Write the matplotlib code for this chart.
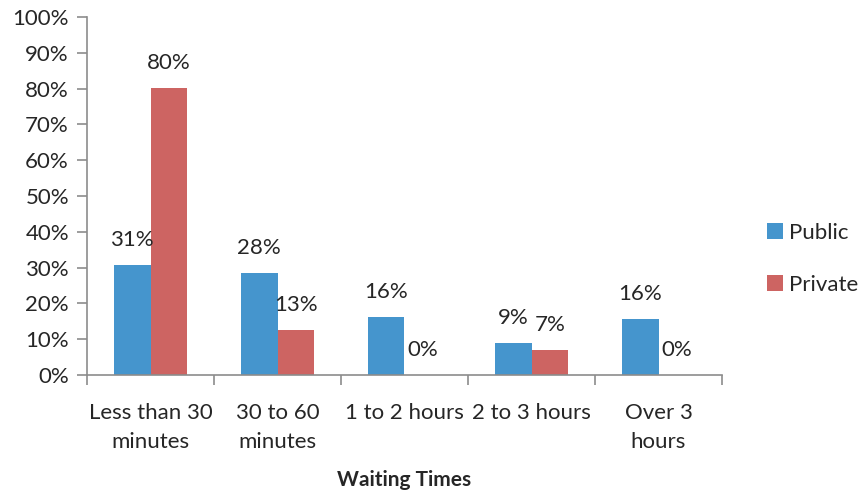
import numpy as np
import matplotlib.pyplot as plt

# Chart data
categories = ['Less than 30\nminutes', '30 to 60\nminutes', '1 to 2 hours', '2 to 3 hours', 'Over 3\nhours']
public = [30.8, 28.4, 16.1, 8.9, 15.6]
private = [80.2, 12.6, 0.0, 7.1, 0.0]
public_labels = ['31%', '28%', '16%', '9%', '16%']
private_labels = ['80%', '13%', '0%', '7%', '0%']
yticks = list(range(0, 101, 10))

plt.rcParams['font.family'] = ['Lato', 'DejaVu Sans']
text_color = '#262626'
axis_color = '#8c8c8c'
blue = '#4595cd'
red = '#cd6462'
fs = 16

fig = plt.figure(figsize=(8.61, 4.90), dpi=100)
ax = fig.add_axes([87 / 861, 115 / 490, 635 / 861, 358 / 490])

x = np.arange(len(categories))
width = 0.29
bars_pub = ax.bar(x - width / 2, public, width, color=blue, label='Public')
bars_pri = ax.bar(x + width / 2, private, width, color=red, label='Private')

# Data labels sit above each bar
for bars, labels in [(bars_pub, public_labels), (bars_pri, private_labels)]:
    for b, lab in zip(bars, labels):
        ax.annotate(lab, (b.get_x() + b.get_width() / 2, b.get_height()),
                    xytext=(0, 18), textcoords='offset points',
                    ha='center', va='center', fontsize=fs, color=text_color)

ax.set_xlim(-0.5, len(categories) - 0.5)
ax.set_ylim(0, 100)
ax.set_yticks(yticks)
ax.set_yticklabels([f'{t}%' for t in yticks], fontsize=fs, color=text_color)

# Category boundaries carry the tick marks
ax.set_xticks(np.arange(-0.5, len(categories)), minor=False)
ax.set_xticklabels([])
ax.set_xticks(x, minor=True)
ax.set_xticklabels(categories, minor=True, fontsize=fs, color=text_color, linespacing=1.55)
ax.tick_params(axis='x', which='minor', length=0, pad=20)
ax.tick_params(axis='x', which='major', length=7, color=axis_color, width=1.2)
ax.tick_params(axis='y', length=7, color=axis_color, width=1.2, pad=6)

for side in ['top', 'right']:
    ax.spines[side].set_visible(False)
for side in ['left', 'bottom']:
    ax.spines[side].set_color(axis_color)
    ax.spines[side].set_linewidth(1.2)

ax.set_xlabel('Waiting Times', fontsize=15, fontweight='bold', color=text_color, labelpad=13)

ax.legend(loc='center left', bbox_to_anchor=(1.039, 0.325), frameon=False, fontsize=fs,
          handlelength=0.75, handleheight=0.75, handletextpad=0.25, labelspacing=1.45,
          labelcolor=text_color)

plt.savefig('out.png', dpi=100)
